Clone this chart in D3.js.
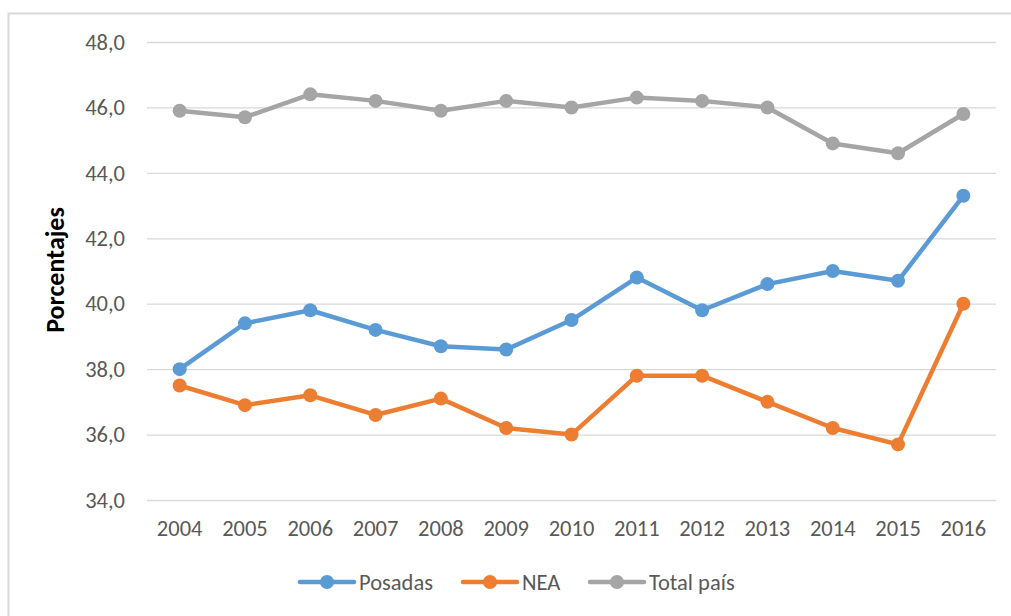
<!DOCTYPE html>
<html>
<head>
<meta charset="utf-8">
<script src="https://d3js.org/d3.v7.min.js"></script>
<style>
  body { margin: 0; background: #fff; }
  text { font-family: Carlito, "Open Sans", "Liberation Sans", sans-serif; fill: #595959; }
</style>
</head>
<body>
<div id="chart"></div>
<script>
// data
const years = ["2004","2005","2006","2007","2008","2009","2010","2011","2012","2013","2014","2015","2016"];
const posadas = [38.0, 39.4, 39.8, 39.2, 38.7, 38.6, 39.5, 40.8, 39.8, 40.6, 41.0, 40.7, 43.3];
const nea     = [37.5, 36.9, 37.2, 36.6, 37.1, 36.2, 36.0, 37.8, 37.8, 37.0, 36.2, 35.7, 40.0];
const total   = [45.9, 45.7, 46.4, 46.2, 45.9, 46.2, 46.0, 46.3, 46.2, 46.0, 44.9, 44.6, 45.8];
const yTicks = [34, 36, 38, 40, 42, 44, 46, 48];
const seriesNames = ["Posadas", "NEA", "Total país"];
const colors = ["#5B9BD5", "#ED7D31", "#A5A5A5"];

const W = 1011, H = 616;
const plot = {left: 147, right: 996, top: 42, bottom: 500};
const fs = "22.5px";

const svg = d3.select("#chart").append("svg")
  .attr("width", W).attr("height", H);

// outer frame
svg.append("rect")
  .attr("x", 8.5).attr("y", 13.5)
  .attr("width", W + 10).attr("height", H + 10)
  .attr("fill", "none").attr("stroke", "#d9d9d9").attr("stroke-width", 2);

const x = d3.scaleBand().domain(years).range([plot.left, plot.right]);
const y = d3.scaleLinear().domain([34, 48]).range([plot.bottom, plot.top]);

// gridlines + y labels
const yAxis = svg.append("g")
  .attr("transform", "translate(" + plot.left + ",0)")
  .call(d3.axisLeft(y).tickValues(yTicks).tickSize(-(plot.right - plot.left))
    .tickPadding(22).tickFormat(d => d3.format(".1f")(d).replace(".", ",")));
yAxis.select(".domain").remove();
yAxis.selectAll("line").attr("stroke", "#d9d9d9").attr("stroke-width", 1.3);
yAxis.selectAll("text").style("font-size", fs).attr("fill", "#595959");

// x labels
const xAxis = svg.append("g")
  .attr("transform", "translate(0," + plot.bottom + ")")
  .call(d3.axisBottom(x).tickSize(0).tickPadding(20));
xAxis.select(".domain").remove();
xAxis.selectAll("text").style("font-size", fs).attr("fill", "#595959");

// y title
svg.append("text")
  .attr("transform", "translate(64,270) rotate(-90)")
  .attr("text-anchor", "middle")
  .style("font-size", "26px").style("font-weight", "bold").style("fill", "#000")
  .text("Porcentajes");

const allSeries = [posadas, nea, total];
const line = d3.line()
  .x((d, i) => x(years[i]) + x.bandwidth() / 2)
  .y(d => y(d));

// draw gray first so colored lines sit on top like the picture
[2, 0, 1].forEach(function(k) {
  const g = svg.append("g");
  g.append("path").datum(allSeries[k])
    .attr("d", line).attr("fill", "none")
    .attr("stroke", colors[k]).attr("stroke-width", 4.5)
    .attr("stroke-linejoin", "round").attr("stroke-linecap", "round");
  g.selectAll("circle").data(allSeries[k]).enter().append("circle")
    .attr("cx", (d, i) => x(years[i]) + x.bandwidth() / 2)
    .attr("cy", d => y(d))
    .attr("r", 7)
    .attr("fill", colors[k]);
});

// legend
const legendX = [300, 463, 590];
seriesNames.forEach(function(name, k) {
  const g = svg.append("g").attr("transform", "translate(" + legendX[k] + ",582)");
  g.append("line").attr("x1", 0).attr("x2", 54).attr("y1", 0).attr("y2", 0)
    .attr("stroke", colors[k]).attr("stroke-width", 4.5).attr("stroke-linecap", "round");
  g.append("circle").attr("cx", 27).attr("cy", 0).attr("r", 7).attr("fill", colors[k]);
  g.append("text").attr("x", 59).attr("y", 7.5)
    .style("font-size", fs).text(name);
});
</script>
</body>
</html>
